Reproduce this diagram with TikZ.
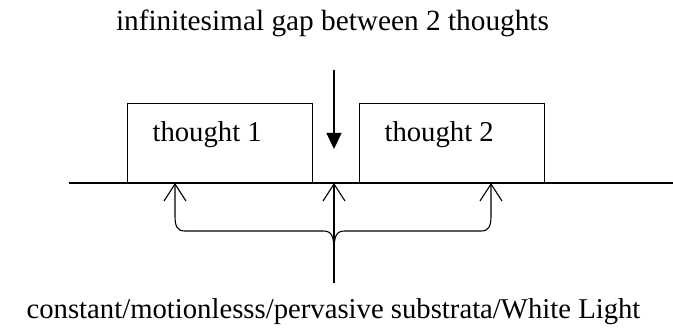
\documentclass[tikz,border=0pt]{standalone}
\usepackage{fontspec}
\setmainfont{Liberation Serif}
\usetikzlibrary{arrows.meta}
\begin{document}
\begin{tikzpicture}[x=1pt,y=-1pt,line width=1.1pt,
  every node/.style={font=\fontsize{28.7}{34}\selectfont},
  thoughtbox/.style={draw,rectangle,minimum width=185pt,minimum height=79pt,inner sep=0pt,anchor=south west},
  barb/.style={-{Straight Barb[length=17pt,width=22pt,line width=1.1pt]}},
  gaparrow/.style={-{Triangle[length=16pt,width=15pt]}}]
\useasboundingbox (0,0) rectangle (673,329);
% texts
\node[anchor=base,font=\fontsize{29.3}{34}\selectfont] (top) at (332.5,31) {infinitesimal gap between 2 thoughts};
\node[anchor=base] (bottom) at (333.5,318) {constant/motionlesss/pervasive substrata/White Light};
% baseline
\coordinate (L) at (69,183);
\coordinate (R) at (673,183);
\draw (L) -- (R);
% boxes
\node[thoughtbox] (b1) at (127,183) {};
\node[thoughtbox] (b2) at (359,183) {};
\node[anchor=base west,inner sep=0pt] (t1) at (152,142) {thought 1};
\node[anchor=base west,inner sep=0pt] (t2) at (384,142) {thought 2};
% gap arrow
\coordinate (gs) at (334,70);
\coordinate (ge) at (334,149);
\draw[gaparrow] (gs) -- (ge);
% points on line
\coordinate (p1) at (175,183);
\coordinate (p2) at (334,183);
\coordinate (p3) at (491,183);
\coordinate (stem) at (334,283);
\coordinate (j) at (334,252);
% brace arrows
\draw[barb] (j) .. controls (334,236) and (332,231) .. (323,231) -- (185,231) .. controls (177,231) and (175,226) .. (175,216) -- (p1);
\draw[barb] (j) .. controls (334,236) and (336,231) .. (345,231) -- (481,231) .. controls (489,231) and (491,226) .. (491,216) -- (p3);
\draw[barb] (stem) -- (p2);
\end{tikzpicture}
\end{document}
